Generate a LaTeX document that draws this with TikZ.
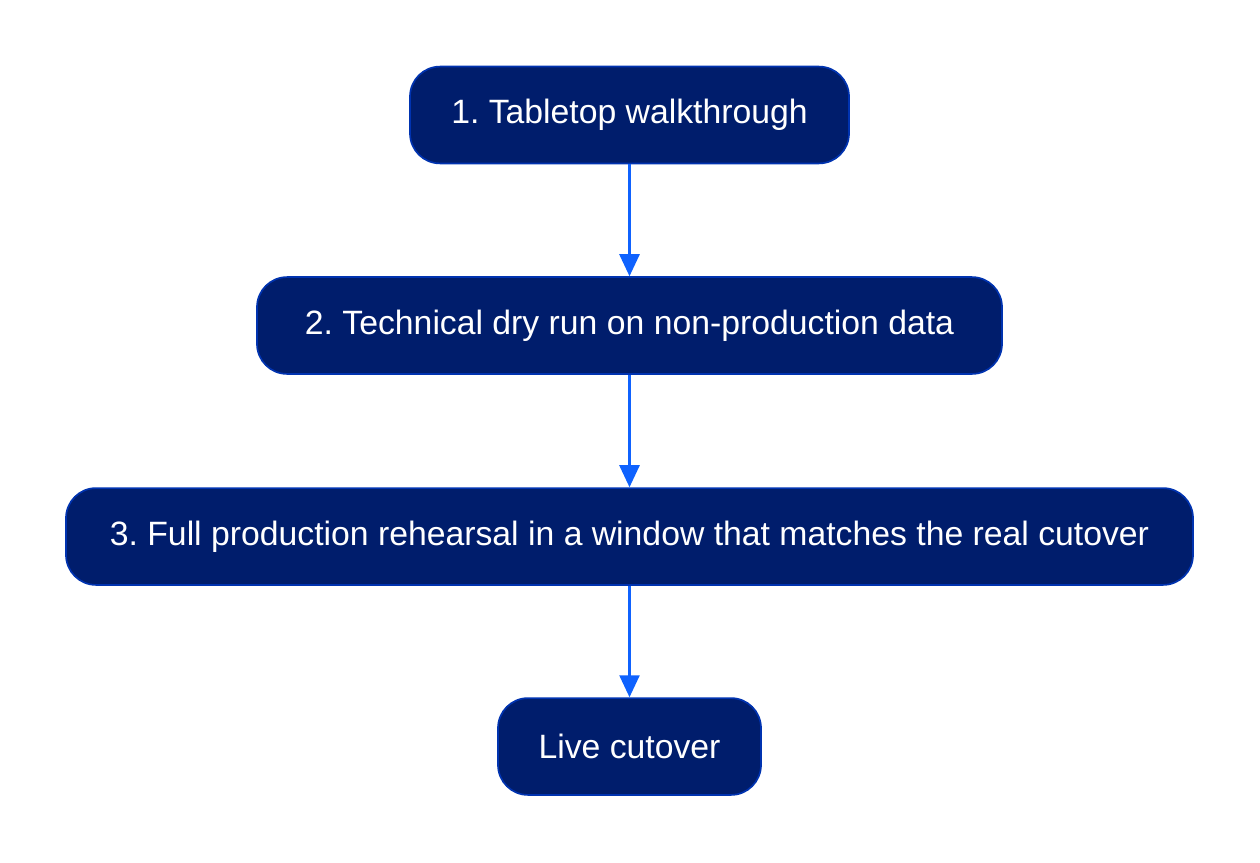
\documentclass[tikz,border=0pt]{standalone}
\usepackage{fontspec}
\setmainfont{Liberation Sans}
\frenchspacing
\usetikzlibrary{arrows.meta}
\definecolor{stagefill}{HTML}{001D6C}
\definecolor{stageedge}{HTML}{0033B0}
\definecolor{flowblue}{HTML}{0F62FE}
\begin{document}
\begin{tikzpicture}[x=0.025cm,y=-0.025cm,
	stage/.style={draw=stageedge,line width=1.2pt,fill=stagefill,text=white,rounded corners=0.75cm,
		minimum height=2.42cm,inner xsep=0pt,font=\fontsize{24}{28}\selectfont},
	flow/.style={draw=flowblue,line width=1.8pt,-{Triangle[length=0.55cm,width=0.5cm]}}]
	\useasboundingbox (0,0) rectangle (1260,862);
	\node[stage,minimum width=439*0.025cm] (s1) at (629.5,115) {1. Tabletop walkthrough};
	\node[stage,minimum width=745*0.025cm] (s2) at (629.5,325.5) {2. Technical dry run on non-production data};
	\node[stage,minimum width=1127*0.025cm] (s3) at (629.5,536.5) {3. Full production rehearsal in a window that matches the real cutover};
	\node[stage,minimum width=263*0.025cm] (live) at (629.5,746.5) {Live cutover};
	\foreach \a/\b in {s1/s2,s2/s3,s3/live}
	\draw[flow] (\a) -- (\b);
\end{tikzpicture}
\end{document}
